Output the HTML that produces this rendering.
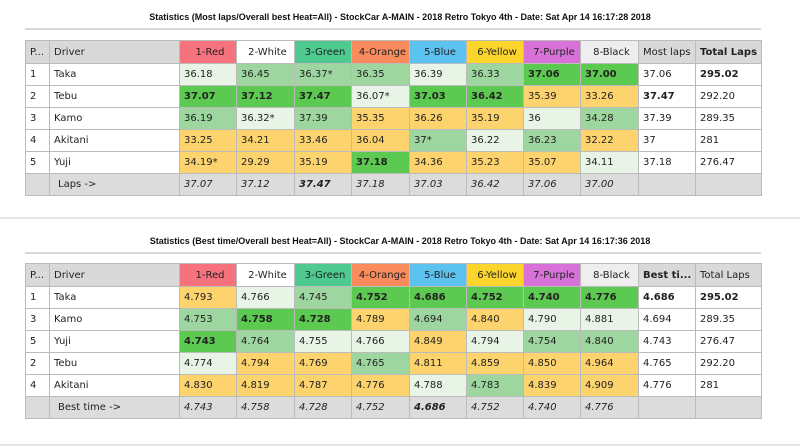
<!DOCTYPE html>
<html><head><meta charset="utf-8"><style>
body{margin:0;width:800px;height:447px;background:#fff;position:relative;overflow:hidden;font-family:"DejaVu Sans","Liberation Sans",sans-serif;}
.title{position:absolute;left:0;width:800px;text-align:center;font:bold 9px "Liberation Sans",sans-serif;color:#111;}
.hr{position:absolute;left:25px;width:736px;height:2px;background:#d8d8d8;}
table{position:absolute;left:25px;border-collapse:collapse;table-layout:fixed;width:736px;font-size:10px;color:#222;}
td{border:1px solid #bbb;height:21px;padding:0 0 0 4px;white-space:nowrap;overflow:hidden;}
tr.h td{height:22px;}
.gh{background:#d9d9d9;}
.Y{background:#fdd36d;}
.G{background:#5cc950;font-weight:bold;}
.M{background:#9ed6a0;}
.L{background:#e8f5e6;}
.b{font-weight:bold;}
.i td{font-style:italic;background:#dcdcdc;}
.sep{position:absolute;left:0;width:800px;height:2px;background:#e6e6e6;}
</style></head><body>
<div class="title" style="top:12px">Statistics (Most laps/Overall best Heat=All) - StockCar A-MAIN - 2018 Retro Tokyo 4th - Date: Sat Apr 14 16:17:28 2018</div>
<div class="hr" style="top:28px"></div>
<table style="top:40px">
<colgroup><col style="width:24px"><col style="width:130px"><col style="width:57px"><col style="width:58px"><col style="width:57px"><col style="width:58px"><col style="width:57px"><col style="width:57px"><col style="width:57px"><col style="width:58px"><col style="width:57px"><col style="width:66px"></colgroup>
<tr class="h"><td class="gh">P...</td><td class="gh">Driver</td><td style="background:#f6727c;text-align:center">1-Red</td><td style="background:#fff;text-align:center">2-White</td><td style="background:#4ec98f;text-align:center">3-Green</td><td style="background:#f98b5c;text-align:center">4-Orange</td><td style="background:#5cc3f0;text-align:center">5-Blue</td><td style="background:#fbd42c;text-align:center">6-Yellow</td><td style="background:#d872d8;text-align:center">7-Purple</td><td style="background:#eee;text-align:center">8-Black</td><td class="gh">Most laps</td><td class="gh b">Total Laps</td></tr>
<tr><td>1</td><td>Taka</td><td class="L">36.18</td><td class="M">36.45</td><td class="M">36.37*</td><td class="M">36.35</td><td class="L">36.39</td><td class="M">36.33</td><td class="G">37.06</td><td class="G">37.00</td><td>37.06</td><td class="b">295.02</td></tr>
<tr><td>2</td><td>Tebu</td><td class="G">37.07</td><td class="G">37.12</td><td class="G">37.47</td><td class="L">36.07*</td><td class="G">37.03</td><td class="G">36.42</td><td class="Y">35.39</td><td class="Y">33.26</td><td class="b">37.47</td><td>292.20</td></tr>
<tr><td>3</td><td>Kamo</td><td class="M">36.19</td><td class="L">36.32*</td><td class="M">37.39</td><td class="Y">35.35</td><td class="Y">36.26</td><td class="Y">35.19</td><td class="L">36</td><td class="M">34.28</td><td>37.39</td><td>289.35</td></tr>
<tr><td>4</td><td>Akitani</td><td class="Y">33.25</td><td class="Y">34.21</td><td class="Y">33.46</td><td class="Y">36.04</td><td class="M">37*</td><td class="L">36.22</td><td class="M">36.23</td><td class="Y">32.22</td><td>37</td><td>281</td></tr>
<tr><td>5</td><td>Yuji</td><td class="Y">34.19*</td><td class="Y">29.29</td><td class="Y">35.19</td><td class="G">37.18</td><td class="Y">34.36</td><td class="Y">35.23</td><td class="Y">35.07</td><td class="L">34.11</td><td>37.18</td><td>276.47</td></tr>
<tr class="i"><td></td><td style="font-style:normal;padding-left:8px">Laps -&gt;</td><td>37.07</td><td>37.12</td><td class="b">37.47</td><td>37.18</td><td>37.03</td><td>36.42</td><td>37.06</td><td>37.00</td><td></td><td></td></tr>
</table>
<div class="sep" style="top:217px"></div>
<div class="title" style="top:236px">Statistics (Best time/Overall best Heat=All) - StockCar A-MAIN - 2018 Retro Tokyo 4th - Date: Sat Apr 14 16:17:36 2018</div>
<div class="hr" style="top:252px"></div>
<table style="top:263px">
<colgroup><col style="width:24px"><col style="width:130px"><col style="width:57px"><col style="width:58px"><col style="width:57px"><col style="width:58px"><col style="width:57px"><col style="width:57px"><col style="width:57px"><col style="width:58px"><col style="width:57px"><col style="width:66px"></colgroup>
<tr class="h"><td class="gh">P...</td><td class="gh">Driver</td><td style="background:#f6727c;text-align:center">1-Red</td><td style="background:#fff;text-align:center">2-White</td><td style="background:#4ec98f;text-align:center">3-Green</td><td style="background:#f98b5c;text-align:center">4-Orange</td><td style="background:#5cc3f0;text-align:center">5-Blue</td><td style="background:#fbd42c;text-align:center">6-Yellow</td><td style="background:#d872d8;text-align:center">7-Purple</td><td style="background:#eee;text-align:center">8-Black</td><td class="gh b">Best ti...</td><td class="gh">Total Laps</td></tr>
<tr><td>1</td><td>Taka</td><td class="Y">4.793</td><td class="L">4.766</td><td class="M">4.745</td><td class="G">4.752</td><td class="G">4.686</td><td class="G">4.752</td><td class="G">4.740</td><td class="G">4.776</td><td class="b">4.686</td><td class="b">295.02</td></tr>
<tr><td>3</td><td>Kamo</td><td class="M">4.753</td><td class="G">4.758</td><td class="G">4.728</td><td class="Y">4.789</td><td class="M">4.694</td><td class="Y">4.840</td><td class="L">4.790</td><td class="L">4.881</td><td>4.694</td><td>289.35</td></tr>
<tr><td>5</td><td>Yuji</td><td class="G">4.743</td><td class="M">4.764</td><td class="L">4.755</td><td class="L">4.766</td><td class="Y">4.849</td><td class="L">4.794</td><td class="M">4.754</td><td class="M">4.840</td><td>4.743</td><td>276.47</td></tr>
<tr><td>2</td><td>Tebu</td><td class="L">4.774</td><td class="Y">4.794</td><td class="Y">4.769</td><td class="M">4.765</td><td class="Y">4.811</td><td class="Y">4.859</td><td class="Y">4.850</td><td class="Y">4.964</td><td>4.765</td><td>292.20</td></tr>
<tr><td>4</td><td>Akitani</td><td class="Y">4.830</td><td class="Y">4.819</td><td class="Y">4.787</td><td class="Y">4.776</td><td class="L">4.788</td><td class="M">4.783</td><td class="Y">4.839</td><td class="Y">4.909</td><td>4.776</td><td>281</td></tr>
<tr class="i"><td></td><td style="font-style:normal;padding-left:8px">Best time -&gt;</td><td>4.743</td><td>4.758</td><td>4.728</td><td>4.752</td><td class="b">4.686</td><td>4.752</td><td>4.740</td><td>4.776</td><td></td><td></td></tr>
</table>
<div class="sep" style="top:444px"></div>
</body></html>
